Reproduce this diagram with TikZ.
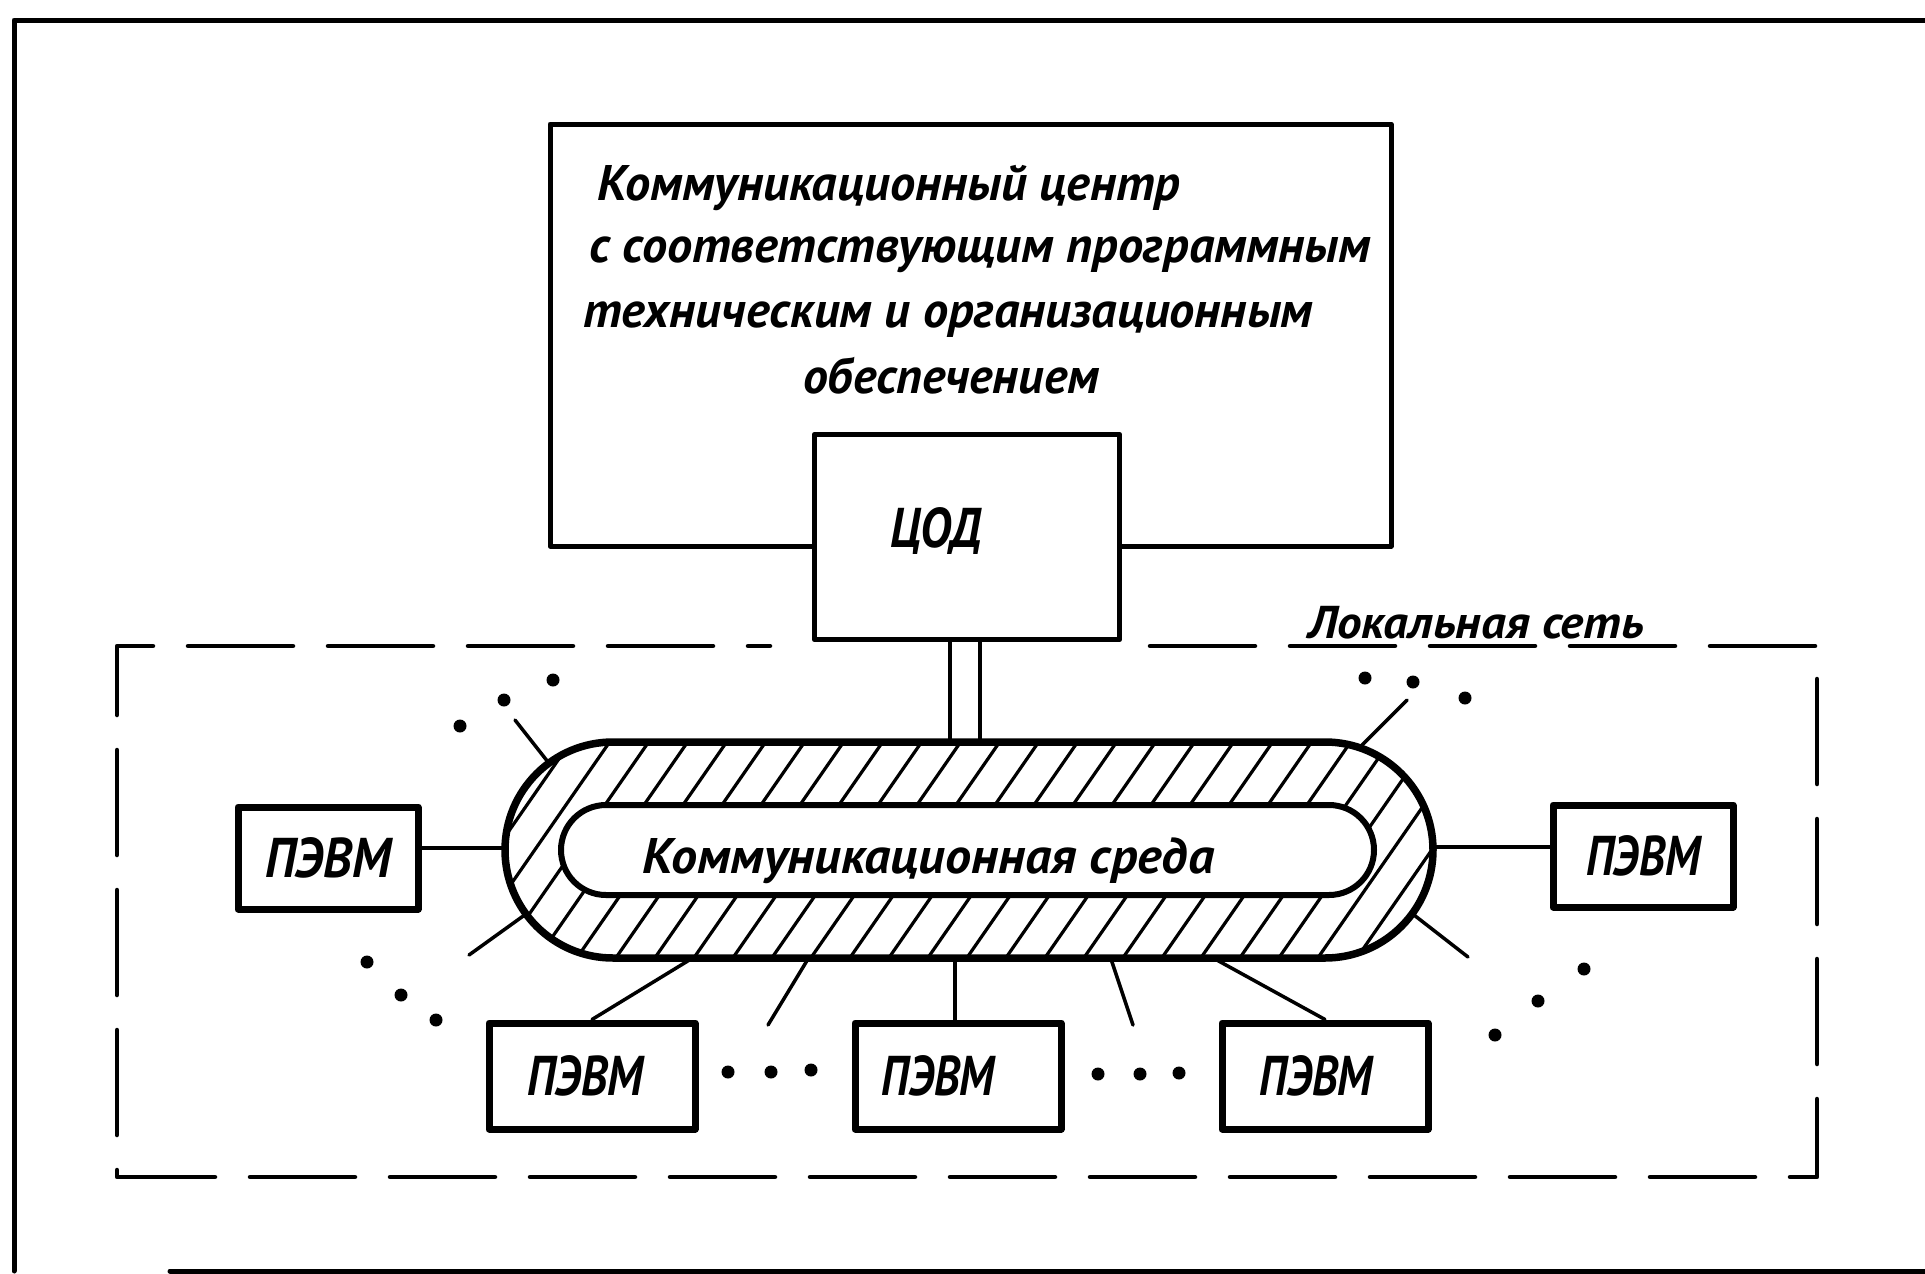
\documentclass[tikz,border=0pt]{standalone}
\usepackage{fontspec}
\usepackage{graphicx}
\setmainfont{PT Sans}
\newcommand\gostf{\fontsize{50}{60}\selectfont\bfseries\itshape}
\newcommand\gostpc{\fontsize{56}{66}\selectfont\bfseries\itshape}
\newcommand\fitto[2]{\resizebox{#1}{\height}{#2}}
\tikzset{
  frame/.style={line width=5pt},
  topbox/.style={draw, line width=5pt},
  cod/.style={draw, fill=white, line width=5.5pt, minimum width=305pt, minimum height=205pt, inner sep=0pt},
  pcside/.style={draw, fill=white, line width=7pt, minimum width=180pt, minimum height=102pt, inner sep=0pt},
  pcbot/.style={draw, fill=white, line width=7pt, minimum width=206pt, minimum height=106pt, inner sep=0pt},
  lan/.style={line width=4.5pt, dash pattern=on 105pt off 35pt},
  wire/.style={line width=3.5pt},
  hatch/.style={line width=3.2pt},
  dot/.style={fill=black},
  txt/.style={anchor=base west, inner sep=0pt}
}
\begin{document}
\begin{tikzpicture}[x=1pt,y=-1pt,line cap=round,line join=round]
\useasboundingbox (0,0) rectangle (1925,1274);
\fill[white] (0,0) rectangle (1925,1274);
% outer frame
\draw[frame] (14,1271) -- (14,20) -- (1940,20);
\draw[frame] (170,1271) -- (1940,1271);
% local network dashed boundary
\draw[lan] (1150,646) -- (1817,646) -- (1817,1177) -- (117,1177) -- (117,646) -- (770,646);
\node[txt] (lanlbl) at (1308,638) {\fontsize{46}{56}\selectfont\bfseries\itshape\fitto{336pt}{Локальная сеть}};
% communication centre box
\draw[topbox] (550,124) rectangle (1391,546);
\node[txt] (t1) at (597,200) {\gostf\fitto{583pt}{Коммуникационный центр}};
\node[txt] (t2) at (589,262) {\gostf\fitto{782pt}{с соответствующим программным}};
\node[txt] (t3) at (583,327) {\gostf\fitto{730pt}{техническим и организационным}};
\node[txt] (t4) at (803,393) {\gostf\fitto{296pt}{обеспечением}};
% COD
\node[cod] (cod) at (967,537) {};
\node[txt] (codt) at (890,547) {\gostpc\fitto{92pt}{ЦОД}};
% double connector
\draw[wire] (950,540 |- cod.south) -- (950,742);
\draw[wire] (980,540 |- cod.south) -- (980,742);
% ring with hatching
\begin{scope}
\clip[rounded corners=108pt] (505,742) rectangle (1433,958);
\foreach \x in {340,379,...,1500} \draw[hatch] (\x,962) -- ++(154,-222);
\end{scope}
\filldraw[fill=white, line width=6pt, rounded corners=45pt] (561,805) rectangle (1374,895);
\draw[line width=7.5pt, rounded corners=108pt] (505,742) rectangle (1433,958);
\node[txt] (ringt) at (642,873) {\gostf\fitto{572pt}{Коммуникационная среда}};
% PCs
\node[pcside] (pcL) at (328,858) {\gostpc\fitto{126pt}{ПЭВМ}};
\node[pcside] (pcR) at (1643,856) {\gostpc\fitto{114pt}{ПЭВМ}};
\node[pcbot] (pc1) at (592,1076) {\hspace*{-14pt}\gostpc\fitto{116pt}{ПЭВМ}};
\node[pcbot] (pc2) at (958,1076) {\hspace*{-40pt}\gostpc\fitto{113pt}{ПЭВМ}};
\node[pcbot] (pc3) at (1325,1076) {\hspace*{-18pt}\gostpc\fitto{113pt}{ПЭВМ}};
% ring attachment points
\coordinate (ringL) at (505,848);
\coordinate (ringR) at (1433,847);
\coordinate (r1) at (691,959);
\coordinate (r2) at (955,958);
\coordinate (r3) at (1215,959);
% connectors
\draw[wire] (ringL -| pcL.east) -- (ringL);
\draw[wire] (ringR -| pcR.west) -- (ringR);
\draw[wire] (pc1.north) -- (r1);
\draw[wire] (pc2.north -| r2) -- (r2);
\draw[wire] (pc3.north) -- (r3);
% stubs
\coordinate (sul) at (515,720); \coordinate (eul) at (548,762);
\coordinate (sll) at (469,955); \coordinate (ell) at (526,914);
\coordinate (sur) at (1407,700); \coordinate (eur) at (1362,745);
\coordinate (slr) at (1468,957); \coordinate (elr) at (1414,915);
\coordinate (sbl) at (768,1025); \coordinate (ebl) at (808,959);
\coordinate (sbr) at (1133,1025); \coordinate (ebr) at (1111,959);
\draw[wire] (sul) -- (eul);
\draw[wire] (sll) -- (ell);
\draw[wire] (sur) -- (eur);
\draw[wire] (slr) -- (elr);
\draw[wire] (sbl) -- (ebl);
\draw[wire] (sbr) -- (ebr);
% dots
\foreach \p in {(460,726),(504,700),(553,680),
                (1365,678),(1413,682),(1465,698),
                (367,962),(401,995),(436,1020),
                (1495,1035),(1538,1001),(1584,969),
                (728,1072),(771,1072),(811,1070),
                (1098,1074),(1140,1074),(1179,1073)}
  \fill[dot] \p circle[radius=6.5pt];
\end{tikzpicture}
\end{document}
